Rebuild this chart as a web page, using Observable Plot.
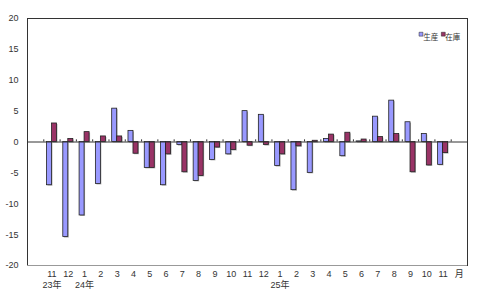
<!DOCTYPE html>
<html>
<head>
<meta charset="utf-8">
<script src="https://cdn.jsdelivr.net/npm/d3@7"></script>
<script src="https://cdn.jsdelivr.net/npm/@observablehq/plot@0.6"></script>
<style>
  html, body { margin: 0; padding: 0; background: #ffffff; }
  #chart svg { display: block; }
</style>
</head>
<body>
<div id="chart"></div>
<script>
// Month labels (23年11月 … 25年11月)
const months = ["11","12","1","2","3","4","5","6","7","8","9","10","11","12","1","2","3","4","5","6","7","8","9","10","11"];
const yearLabels = ["23年","","24年","","","","","","","","","","","","25年","","","","","","","","","",""];
const unitLabel = "月";
// 生産 (production) and 在庫 (inventory), % change
const production = [-7.0,-15.4,-11.9,-6.8,5.4,1.8,-4.2,-7.0,-0.5,-6.3,-2.9,-2.0,5.0,4.4,-3.9,-7.8,-5.0,0.5,-2.3,0.1,4.1,6.7,3.2,1.3,-3.7];
const inventory = [3.0,0.5,1.6,0.9,0.9,-1.9,-4.2,-2.0,-4.9,-5.5,-0.9,-1.3,-0.6,-0.5,-2.0,-0.7,0.2,1.2,1.5,0.4,0.8,1.3,-4.9,-3.8,-1.8];
const seriesNames = ["生産", "在庫"];
const yTicks = [-20,-15,-10,-5,0,5,10,15,20];

const width = 480, height = 300;
const marginLeft = 27, marginRight = 13, marginTop = 18, marginBottom = 35;
const nSlots = months.length + 2; // empty leading slot + months + unit slot
const slots = d3.range(nSlots);
const bw = (width - marginLeft - marginRight) / nSlots;

const prodRows = production.map((v, i) => ({slot: i + 1, value: v}));
const invRows = inventory.map((v, i) => ({slot: i + 1, value: v}));

const blue = "#9999FF", maroon = "#993366", shadow = "#b4b4b4";
const font = "'Liberation Sans', 'Noto Sans CJK JP', sans-serif";

const labelFor = i => i >= 1 && i <= months.length ? months[i - 1] : (i === months.length + 1 ? unitLabel : "");
const yearFor = i => i >= 1 && i <= months.length ? yearLabels[i - 1] : "";

const chart = Plot.plot({
  width, height, marginLeft, marginRight, marginTop, marginBottom,
  style: {background: "#ffffff", fontFamily: font, color: "#333"},
  x: {type: "band", domain: slots, padding: 0, round: false, axis: null, label: null},
  y: {domain: [-20, 20], axis: null, label: null},
  marks: [
    Plot.frame({stroke: "#333", strokeWidth: 1}),
    Plot.ruleY([-20], {stroke: "#999"}),
    Plot.axisY({ticks: yTicks, tickSize: 0, tickPadding: 9, fontSize: 9, fill: "#333", label: null, tickFormat: d => String(d)}),
    // shadows
    Plot.barY(prodRows, {x: "slot", y: "value", fill: shadow, insetLeft: 3.2, insetRight: 8.1, dx: 1, dy: 1}),
    Plot.barY(invRows, {x: "slot", y: "value", fill: shadow, insetLeft: 8.2, insetRight: 3.1, dx: 1, dy: 1}),
    // bars
    Plot.barY(prodRows, {x: "slot", y: "value", fill: blue, stroke: "#222", strokeWidth: 0.8, insetLeft: 3.2, insetRight: 8.1}),
    Plot.barY(invRows, {x: "slot", y: "value", fill: maroon, stroke: "#222", strokeWidth: 0.8, insetLeft: 8.2, insetRight: 3.1}),
    // zero line with category boundary ticks
    Plot.ruleY([0], {stroke: "#333"}),
    Plot.ruleX(slots.slice(1), {x: d => d, y1: 0, y2: 0.35, dx: -bw / 2, stroke: "#333"}),
    // x axis labels
    Plot.axisX({ticks: slots.slice(1), tickSize: 0, tickPadding: 5, fontSize: 9, fill: "#333", label: null, tickFormat: labelFor}),
    Plot.axisX({ticks: slots.slice(1), tickSize: 0, tickPadding: 16, fontSize: 9, fill: "#333", label: null, tickFormat: yearFor}),
    // legend
    Plot.dot([seriesNames[0]], {frameAnchor: "top-right", dx: -46.5, dy: 15.7, symbol: "square", r: 2.2, fill: blue, stroke: "#222", strokeWidth: 0.5}),
    Plot.text([seriesNames[0]], {frameAnchor: "top-right", dx: -44.3, dy: 16.3, text: d => d, textAnchor: "start", fontSize: 7.5, fill: "#333"}),
    Plot.dot([seriesNames[1]], {frameAnchor: "top-right", dx: -24.2, dy: 15.7, symbol: "square", r: 2.2, fill: maroon, stroke: "#222", strokeWidth: 0.5}),
    Plot.text([seriesNames[1]], {frameAnchor: "top-right", dx: -22.2, dy: 16.3, text: d => d, textAnchor: "start", fontSize: 7.5, fill: "#333"})
  ]
});
document.getElementById("chart").appendChild(chart);
</script>
</body>
</html>
